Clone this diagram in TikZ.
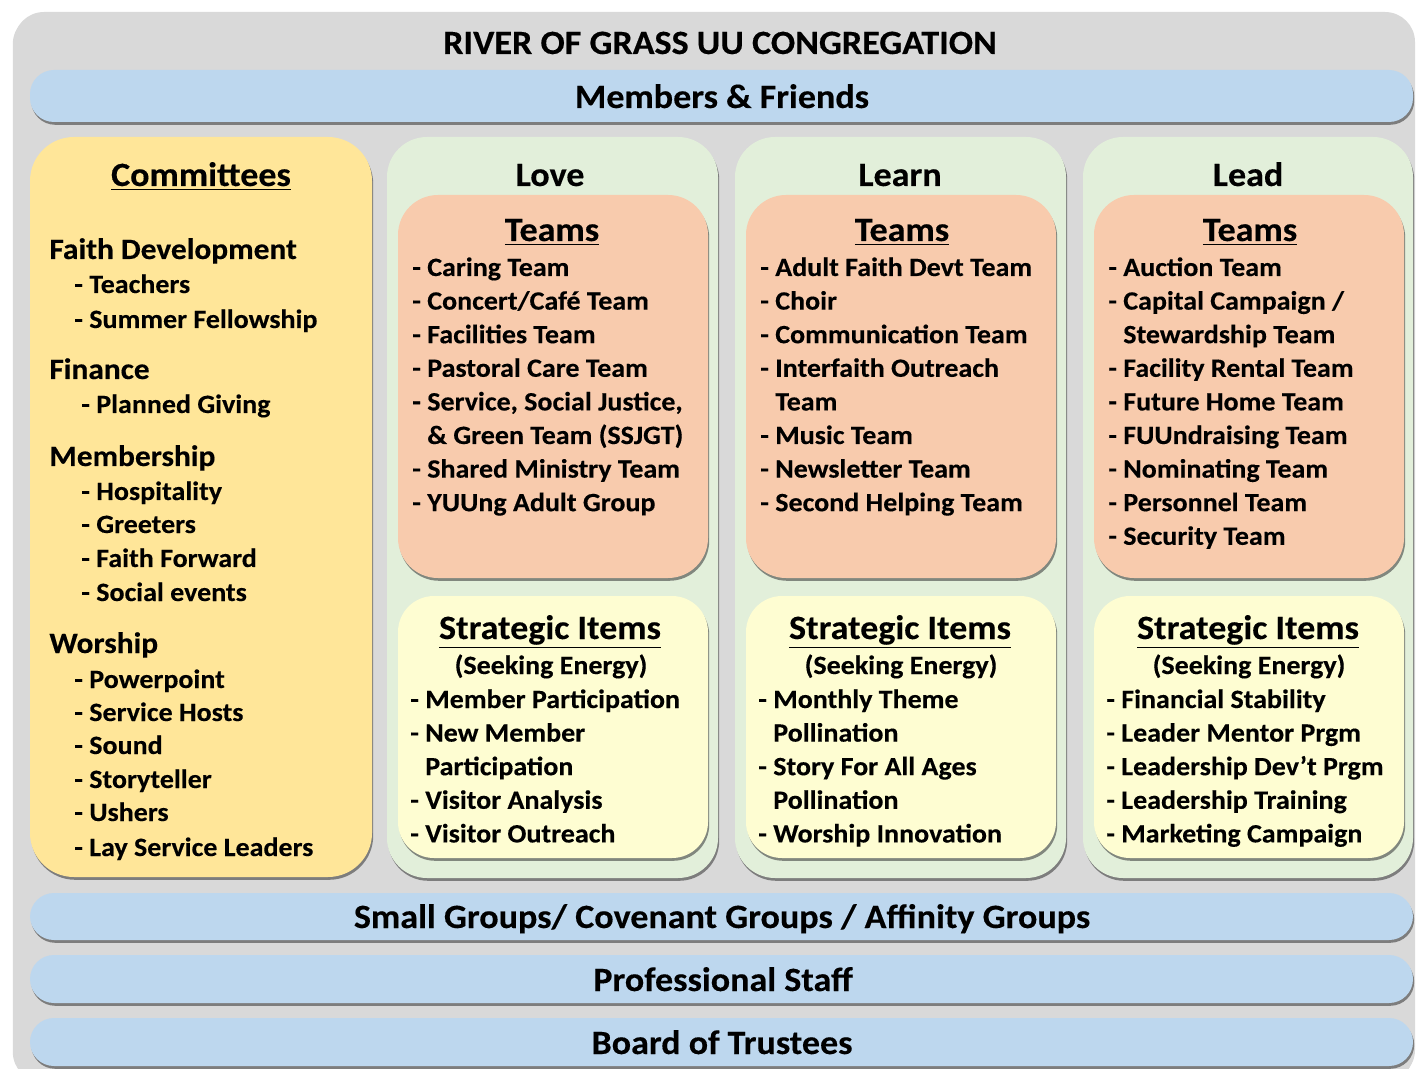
\documentclass[tikz,border=0pt]{standalone}
\usepackage{fontspec}
\setmainfont{Carlito}[BoldFeatures={FakeStretch=1.06,FakeBold=0.3}]
\usetikzlibrary{shadows}

\definecolor{framegray}{HTML}{D9D9D9}
\definecolor{barblue}{HTML}{BDD7EE}
\definecolor{comyellow}{HTML}{FFE699}
\definecolor{colgreen}{HTML}{E2EFDA}
\definecolor{teamsalmon}{HTML}{F8CBAD}
\definecolor{strayellow}{HTML}{FEFDD2}

\begin{document}
\begin{tikzpicture}[x=0.5pt,y=-0.5pt,
  shade/.style={drop shadow={shadow xshift=0.6pt,shadow yshift=-1.4pt,opacity=0.55,fill=black!80}},
  bar/.style={fill=barblue,rounded corners=12pt,shade},
  combox/.style={fill=comyellow,rounded corners=22pt,shade},
  colbox/.style={fill=colgreen,rounded corners=20pt,shade},
  teambox/.style={fill=teamsalmon,rounded corners=20pt,shade},
  strbox/.style={fill=strayellow,rounded corners=18pt,shade},
  head/.style={font=\fontsize{17}{19}\selectfont\bfseries,inner sep=0pt,anchor=base},
  sub/.style={font=\fontsize{14.8}{16}\selectfont\bfseries,inner sep=0pt,anchor=base west},
  item/.style={font=\fontsize{13.2}{15}\selectfont\bfseries,inner sep=0pt,anchor=base west},
]
\clip (0,0) rectangle (1419,1069);
%% frames
\path[fill=framegray,rounded corners=15pt,drop shadow={shadow xshift=-0.6pt,shadow yshift=-1pt,opacity=0.3}] (14,12) rectangle (1415,1080);
\path[bar] (30,70) rectangle (1413,122);
\path[combox] (30,137) rectangle (372,877);
\path[colbox] (387,137) rectangle (718,878);
\path[colbox] (735,137) rectangle (1066,878);
\path[colbox] (1083,137) rectangle (1413,878);
\foreach \x in {398,746,1094}{
  \path[teambox] (\x,195) rectangle (\x+310,578);
  \path[strbox] (\x,596) rectangle (\x+310,858);
}
\path[bar] (30,893) rectangle (1413,940);
\path[bar] (30,955) rectangle (1413,1003);
\path[bar] (30,1018) rectangle (1413,1066);
%% titles
\node[head] (title) at (720,54) {RIVER OF GRASS UU CONGREGATION};
\node[head] (members) at (722,108) {Members \& Friends};
\node[head] (small) at (722,928) {Small Groups/ Covenant Groups / Affinity Groups};
\node[head] (staff) at (723,991) {Professional Staff};
\node[head] (board) at (722,1054) {Board of Trustees};
%% committees
\node[head] (committees) at (201,186) {\underline{Committees}};
\foreach \y/\t [count=\i] in {250/Faith Development,370/Finance,457/Membership,644/Worship}
  \node[sub] (com-h\i) at (49,\y+9) {\t};
\foreach \y/\x/\t [count=\i] in {285/74/- Teachers,320/74/- Summer Fellowship,405/81/- Planned Giving,
  492/81/- Hospitality,525/81/- Greeters,559/81/- Faith Forward,593/81/- Social events,
  680/74/- Powerpoint,713/74/- Service Hosts,746/74/- Sound,780/74/- Storyteller,813/74/- Ushers,848/74/- Lay Service Leaders}
  \node[item] (com-s\i) at (\x,\y+8) {\t};
%% columns
\foreach \x/\n/\t in {550/love/Love,900/learn/Learn,1248/lead/Lead}{
  \node[head] (\n) at (\x,186) {\t};
  \node[head] (\n-teams) at (\x+2,241) {\underline{Teams}};
  \node[head] (\n-str) at (\x,639) {\underline{Strategic Items}};
  \node[item,anchor=base] (\n-seek) at (\x+1,674) {(Seeking Energy)};
}
%% love
\foreach \t [count=\i from 0] in {- Caring Team,- Concert/Café Team,- Facilities Team,- Pastoral Care Team,
  {- Service, Social Justice,},\phantom{- }\& Green Team (SSJGT),- Shared Ministry Team,- YUUng Adult Group}
  \node[item] (love-t\i) at (412,{268+33.6*\i+8}) {\t};
\foreach \t [count=\i from 0] in {- Member Participation,- New Member,\phantom{- }Participation,- Visitor Analysis,- Visitor Outreach}
  \node[item] (love-s\i) at (410,{700+33.6*\i+8}) {\t};
%% learn
\foreach \t [count=\i from 0] in {- Adult Faith Devt Team,- Choir,- Communication Team,- Interfaith Outreach,
  \phantom{- }Team,- Music Team,- Newsletter Team,- Second Helping Team}
  \node[item] (learn-t\i) at (760,{268+33.6*\i+8}) {\t};
\foreach \t [count=\i from 0] in {- Monthly Theme,\phantom{- }Pollination,- Story For All Ages,\phantom{- }Pollination,- Worship Innovation}
  \node[item] (learn-s\i) at (758,{700+33.6*\i+8}) {\t};
%% lead
\foreach \t [count=\i from 0] in {- Auction Team,- Capital Campaign /,\phantom{- }Stewardship Team,- Facility Rental Team,
  - Future Home Team,- FUUndraising Team,- Nominating Team,- Personnel Team,- Security Team}
  \node[item] (lead-t\i) at (1108,{268+33.6*\i+8}) {\t};
\foreach \t [count=\i from 0] in {- Financial Stability,- Leader Mentor Prgm,- Leadership Dev’t Prgm,- Leadership Training,- Marketing Campaign}
  \node[item] (lead-s\i) at (1106,{700+33.6*\i+8}) {\t};
%
\end{tikzpicture}
\end{document}
